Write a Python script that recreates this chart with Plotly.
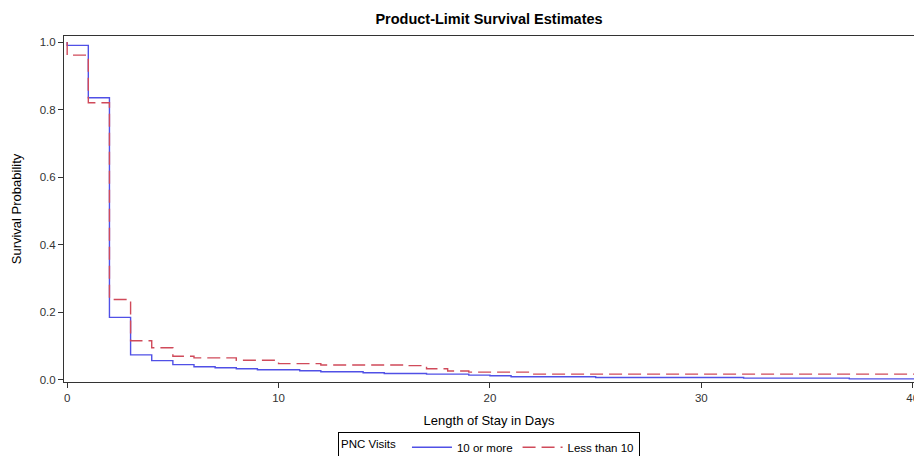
import plotly.graph_objects as go

# Kaplan-Meier step data (time, survival)
t_10plus = [0, 0, 1, 2, 3, 4, 5, 6, 7, 8, 9, 11, 12, 14, 15, 17, 19, 20, 21, 25, 32, 37, 40.5]
s_10plus = [1.0, 0.99, 0.835, 0.184, 0.073, 0.056, 0.044, 0.038, 0.035, 0.032, 0.029, 0.026, 0.023,
            0.020, 0.018, 0.016, 0.013, 0.011, 0.008, 0.006, 0.004, 0.002, 0.002]

t_lt10 = [0, 0, 1, 2, 3, 4, 5, 6, 8, 10, 12, 16, 17, 18, 19, 22, 40.5]
s_lt10 = [1.0, 0.961, 0.820, 0.237, 0.115, 0.094, 0.069, 0.064, 0.057, 0.047, 0.043, 0.041,
          0.032, 0.025, 0.022, 0.016, 0.016]

x_ticks = [0, 10, 20, 30, 40]
y_ticks = [0.0, 0.2, 0.4, 0.6, 0.8, 1.0]

FONT = "Liberation Sans, Arial, sans-serif"
AXC = "#333333"

fig = go.Figure()
fig.add_trace(go.Scatter(x=t_10plus, y=s_10plus, mode="lines", line_shape="hv",
                         name="10 or more", line=dict(color="#5050e6", width=1.4)))
fig.add_trace(go.Scatter(x=t_lt10, y=s_lt10, mode="lines", line_shape="hv",
                         name="Less than 10", line=dict(color="#d04a5a", width=1.4, dash="13px,6px")))

fig.update_layout(
    width=914, height=456,
    margin=dict(l=64, r=0, t=36, b=74, autoexpand=False),
    paper_bgcolor="white", plot_bgcolor="white",
    font=dict(family=FONT, size=12, color="#000"),
    title=dict(text="<b>Product-Limit Survival Estimates</b>", x=0.5, xref="paper",
               y=1 - 19 / 456, yref="container", yanchor="middle", xanchor="center",
               font=dict(size=14.5, family=FONT, color="#000")),
    showlegend=True,
    legend=dict(orientation="h", x=0.5, xanchor="center", y=-0.144, yanchor="top",
                bordercolor="#000", borderwidth=1, bgcolor="white",
                title=dict(text="PNC Visits ", side="left", font=dict(size=11.5, family=FONT)),
                font=dict(size=11.5, family=FONT), itemwidth=40, tracegroupgap=0),
)

fig.update_xaxes(range=[-0.15, 40.06], tickvals=x_ticks, ticktext=[str(v) for v in x_ticks],
                 showgrid=False, zeroline=False, showline=True, linecolor=AXC, linewidth=1,
                 mirror=True, ticks="outside", ticklen=5, tickcolor=AXC, automargin=False,
                 ticklabeloverflow="allow",
                 tickfont=dict(size=11.5, color=AXC, family=FONT),
                 title=dict(text="Length of Stay in Days", standoff=13,
                            font=dict(size=13, color="#000", family=FONT)))
fig.update_yaxes(range=[-0.0074, 1.0178], tickvals=y_ticks, ticktext=[f"{v:.1f}" for v in y_ticks],
                 showgrid=False, zeroline=False, showline=True, linecolor=AXC, linewidth=1,
                 mirror=False, ticks="outside", ticklen=5, tickcolor=AXC, automargin=False,
                 tickfont=dict(size=11.5, color=AXC, family=FONT),
                 title=dict(text="Survival Probability", standoff=15,
                            font=dict(size=13, color="#000", family=FONT)))

fig.write_html("out.html", config={"displayModeBar": False},
               post_script="document.body.style.margin='0';document.body.style.overflow='hidden';")
